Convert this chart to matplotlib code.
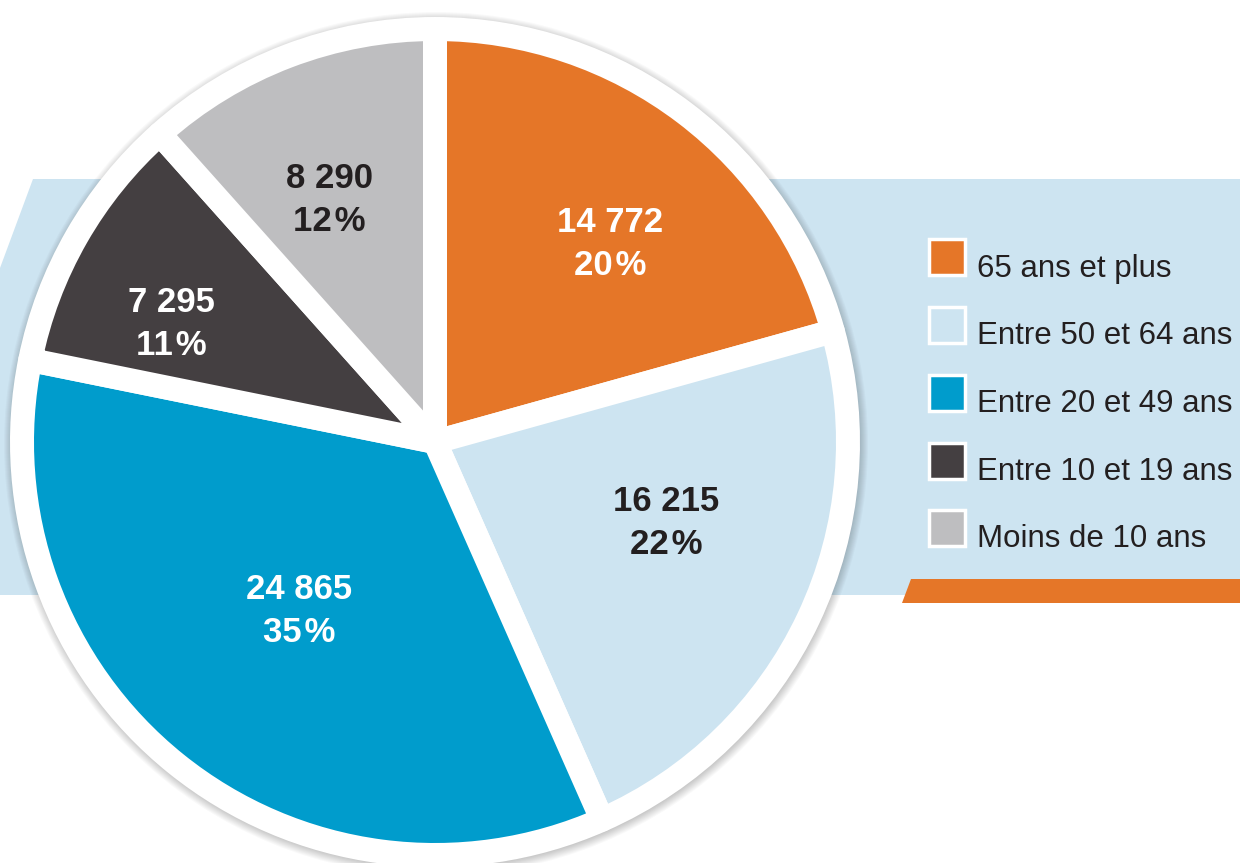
import matplotlib
matplotlib.use("Agg")
import matplotlib.pyplot as plt
from matplotlib.patches import Circle, Polygon, Rectangle
import numpy as np

# data
categories = ["65 ans et plus", "Entre 50 et 64 ans", "Entre 20 et 49 ans",
              "Entre 10 et 19 ans", "Moins de 10 ans"]
counts = [14772, 16215, 24865, 7295, 8290]
count_labels = ["14 772", "16 215", "24 865", "7 295", "8 290"]
pct_labels = ["20\u200a%", "22\u200a%", "35\u200a%", "11\u200a%", "12\u200a%"]

# style
colors = ["#E57628", "#CDE4F1", "#009CCC", "#443F41", "#BEBEC0"]
text_colors = ["white", "#231F20", "white", "white", "#231F20"]
label_r = [0.66, 0.61, 0.54, 0.72, 0.66]      # fraction of visible radius
label_shift = [-4.3, 6.0, 0.0, 5.6, 2.6]      # degrees from wedge middle
band_color = "#CDE4F1"
ink = "#231F20"
FONT = ["Liberation Sans", "DejaVu Sans"]

W, H = 1240, 863


def py(y):
    # pixel row (from top) -> data y
    return H - y


fig = plt.figure(figsize=(W / 100, H / 100), dpi=100)
ax = fig.add_axes([0, 0, 1, 1])
ax.set_xlim(0, W)
ax.set_ylim(0, H)
ax.set_aspect("equal")
ax.axis("off")

# background band and orange bar
band = [(33, 179), (W, 179), (W, 595), (0, 595), (0, 268)]
ax.add_patch(Polygon([(x, py(y)) for x, y in band], closed=True,
                     fc=band_color, ec="none", zorder=0))
bar = [(911, 579), (W, 579), (W, 603), (902, 603)]
ax.add_patch(Polygon([(x, py(y)) for x, y in bar], closed=True,
                     fc="#E57628", ec="none", zorder=1))

cx, cy = 435, py(442)
R = 401          # visible coloured radius
gap = 24         # white gap between slices, px
ring = 422

# soft shadow + white ring
for k in range(1, 11):
    ax.add_patch(Circle((cx + 1, cy - 2), ring + k, fc="black", ec="none",
                        alpha=0.022, zorder=2))
ax.add_patch(Circle((cx, cy), ring, fc="white", ec="none", zorder=3))

# the white edge eats half the gap from the outer arc, so grow the radius
wedges, _ = ax.pie(
    counts, colors=colors, startangle=90, counterclock=False,
    radius=R + gap / 2, center=(cx, cy), frame=True,
    wedgeprops=dict(edgecolor="white", linewidth=gap * 0.72,
                    joinstyle="round"),
)
for w in wedges:
    w.set_zorder(4)

ax.set_xlim(0, W)
ax.set_ylim(0, H)
ax.axis("off")

for i, w in enumerate(wedges):
    mid = np.deg2rad((w.theta1 + w.theta2) / 2 + label_shift[i])
    lx = cx + label_r[i] * R * np.cos(mid)
    ly = cy + label_r[i] * R * np.sin(mid)
    ax.text(lx, ly + 21, count_labels[i], ha="center", va="center",
            fontsize=25, fontweight="bold", color=text_colors[i],
            family=FONT, zorder=5)
    ax.text(lx, ly - 22, pct_labels[i], ha="center", va="center",
            fontsize=25, fontweight="bold", color=text_colors[i],
            family=FONT, zorder=5)

# legend
sq = 36
top0 = 239.5
step = 67.7
for i, name in enumerate(categories):
    top = top0 + i * step
    ax.add_patch(Rectangle((928.5, py(top + sq)), sq, sq, fc=colors[i],
                           ec="white", lw=2.5, zorder=5))
    ax.text(977, py(top + sq + 1), name, ha="left", va="baseline",
            fontsize=22.5, color=ink, family=FONT, zorder=5)

fig.savefig("out.png", dpi=100)
